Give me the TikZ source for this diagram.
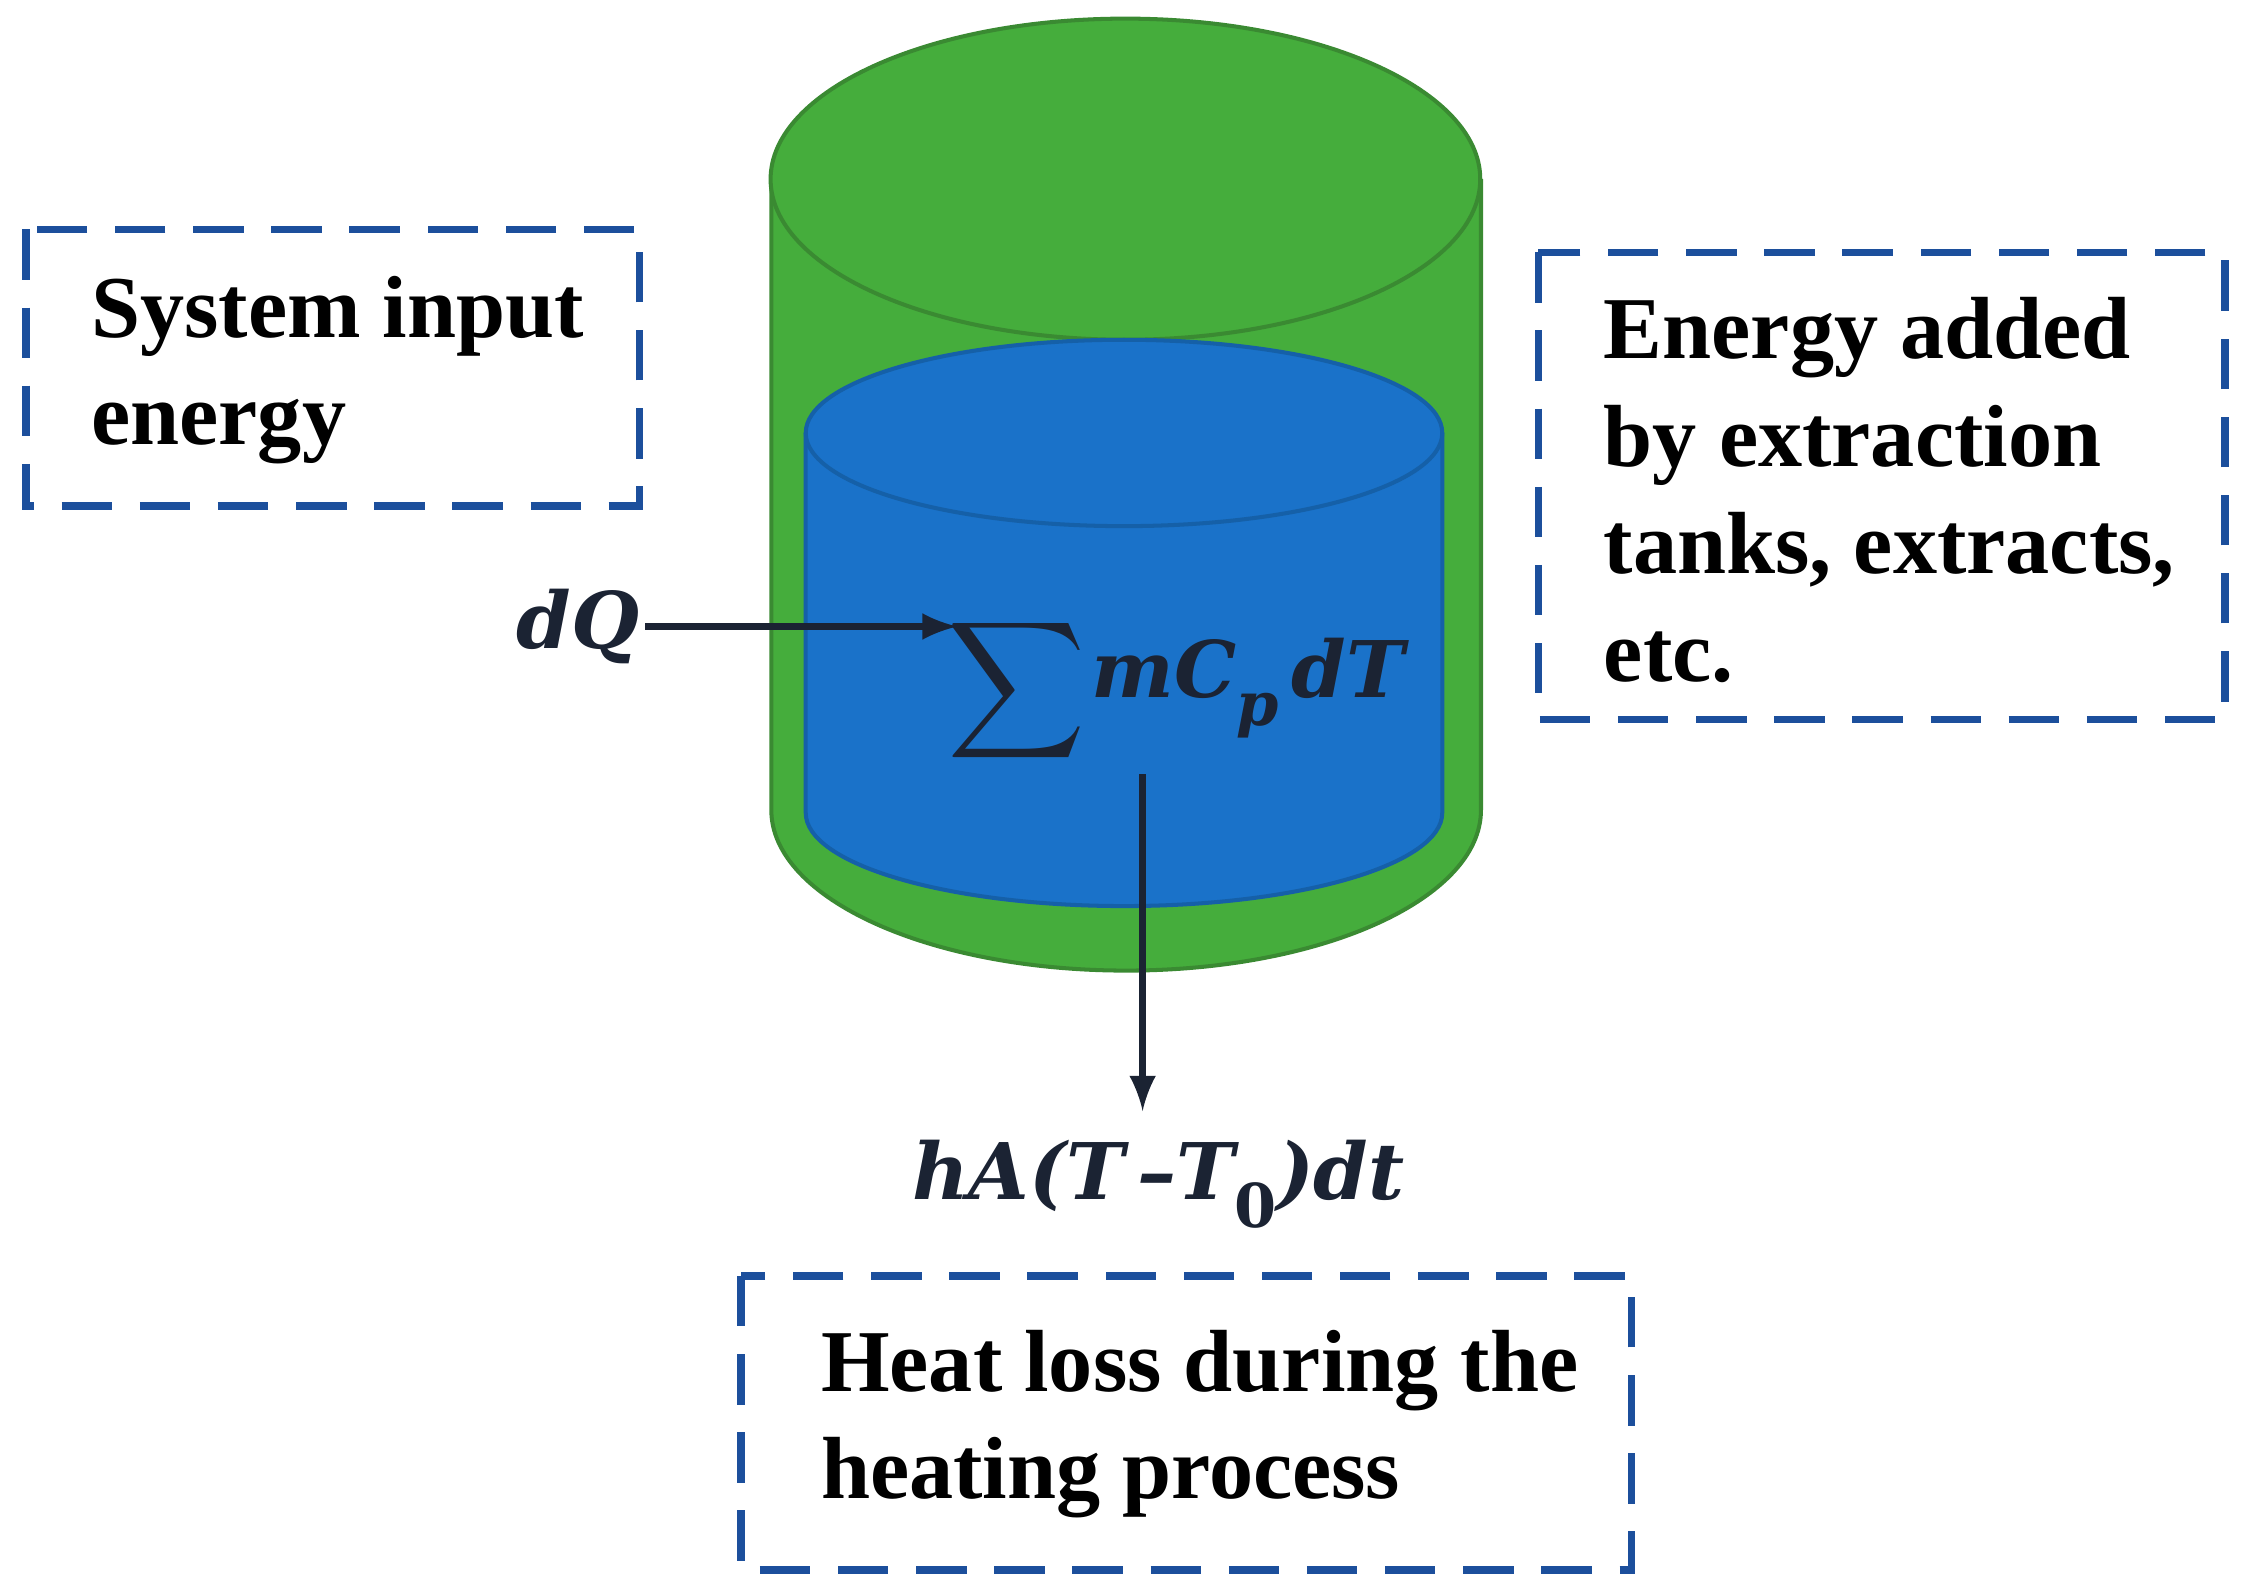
\documentclass[tikz,border=0pt]{standalone}
\usepackage{fontspec}
\usepackage{graphicx}
\setmainfont{Liberation Serif}
\newfontfamily\mathish{DejaVu Serif}
\usetikzlibrary{positioning}
\definecolor{tankgreen}{HTML}{45AD3C}
\definecolor{tankgreenline}{HTML}{3A8A32}
\definecolor{liquidblue}{HTML}{1A72C9}
\definecolor{liquidline}{HTML}{1560A8}
\definecolor{boxblue}{HTML}{1C4F9C}
\definecolor{inkdark}{HTML}{1B2333}
\begin{document}
\begin{tikzpicture}[x=0.01cm,y=-0.01cm,
	labelbox/.style={draw=boxblue,line width=1.5pt,dash pattern=on 10pt off 5.5pt},
	boxtext/.style={align=left,anchor=north west,inner sep=0pt,
		font=\fontsize{17.5}{21.3}\selectfont\bfseries},
	formula/.style={text=inkdark,inner sep=1pt,font=\mathish\bfseries\itshape\fontsize{15.5}{18}\selectfont},
	flow/.style={draw=inkdark,line width=1.4pt,-latex}
]
	\useasboundingbox (0,0) rectangle (1568,1113);
	% green tank
	\fill[tankgreen] (538,125) rectangle (1033,565);
	\fill[tankgreen] (785,565) ellipse [x radius=247.5, y radius=112];
	\draw[tankgreenline,line width=0.8pt] (538,125) -- (538,565) arc [start angle=180,end angle=360,x radius=247.5,y radius=-112] -- (1033,125);
	\filldraw[fill=tankgreen,draw=tankgreenline,line width=0.8pt] (785,125) ellipse [x radius=247.5, y radius=112];
	% liquid
	\fill[liquidblue] (562,302) rectangle (1006,567);
	\fill[liquidblue] (784,567) ellipse [x radius=222, y radius=65];
	\draw[liquidline,line width=0.8pt] (562,302) -- (562,567) arc [start angle=180,end angle=360,x radius=222,y radius=-65] -- (1006,302);
	\filldraw[fill=liquidblue,draw=liquidline,line width=0.8pt] (784,302) ellipse [x radius=222, y radius=65];
	% boxes
	\draw[labelbox] (18,160) rectangle (446,353);
	\node[boxtext] (inputtxt) at (63,192) {System input\\energy};
	\draw[labelbox] (1073,176) rectangle (1552,502);
	\node[boxtext] (addedtxt) at (1118,207) {Energy added\\by extraction\\tanks, extracts,\\etc.};
	\draw[labelbox] (517,890) rectangle (1138,1095);
	\node[boxtext] (losstxt) at (572,927) {Heat loss during the\\heating process};
	% formulas
	\node[formula,anchor=east] (dq) at (450,437) {dQ};
	\node[inner sep=0pt,text=inkdark] (sum) at (709,482) {\scalebox{1.9}{$\displaystyle\sum$}};
	\node[formula,anchor=west] (heat) at (757,480) {mC\raisebox{-0.35em}{\fontsize{12}{12}\selectfont p}\,dT};
	\coordinate (sumin) at (668,437);
	\coordinate (drop) at (797,540);
	\coordinate (lossend) at (797,775);
	\node[formula] (loss) at (808,826) {hA(T\,\textendash T\raisebox{-0.35em}{\fontsize{12}{12}\selectfont\upshape 0})dt};
	\draw[flow] (dq) -- (sumin);
	\draw[flow] (drop) -- (lossend);
\end{tikzpicture}
\end{document}
